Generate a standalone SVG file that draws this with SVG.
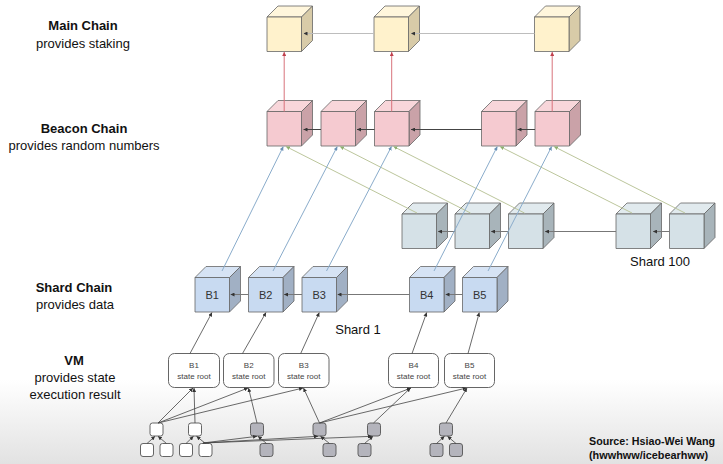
<svg xmlns="http://www.w3.org/2000/svg" width="723" height="464" viewBox="0 0 723 464">
<style>
.lbl{font-family:"Liberation Sans",Arial,sans-serif;font-size:13px;fill:#111;text-anchor:middle}
.b{font-weight:bold}
.cube path,.cube rect{stroke:#666;stroke-width:0.8;stroke-linejoin:round}
.main .front{fill:#fff2cc}.main .top{fill:#fff6dc}.main .side{fill:#d8cba8}
.beacon .front{fill:#f5cad0}.beacon .top{fill:#f8d6da}.beacon .side{fill:#caa2a8}
.s100 .front{fill:#d5e1e7}.s100 .top{fill:#e1eaee}.s100 .side{fill:#a8b4ba}
.s1 .front{fill:#c8daf1}.s1 .top{fill:#d6e3f4}.s1 .side{fill:#a1b0c4}
.cl{font-family:"Liberation Sans",Arial,sans-serif;font-size:11px;fill:#333;text-anchor:middle}
.vm rect{fill:#fff;stroke:#555;stroke-width:0.9}
.vt{font-family:"Liberation Sans",Arial,sans-serif;font-size:8px;fill:#444;text-anchor:middle}
.sw{fill:#fff;stroke:#555;stroke-width:0.9}
.sg{fill:#b4b4bc;stroke:#555;stroke-width:0.9}
.ln{fill:none;stroke-width:1}
.dk{stroke:#444;marker-end:url(#aDk)}
.lg{stroke:#bdbdbd;marker-end:url(#aDk)}
.md{stroke:#777;marker-end:url(#aDk)}
.rd{stroke:#d8737c;marker-end:url(#aRd)}
.bl{stroke:#8aaccb;marker-end:url(#aBl)}
.gr{stroke:#bcc69c;marker-start:url(#aGr)}
.tk{stroke:#444;stroke-width:0.8;marker-end:url(#aDk)}
.src{font-family:"Liberation Sans",Arial,sans-serif;font-size:11px;font-weight:bold;fill:#111}
</style>
<defs>
<linearGradient id="bg" x1="0" y1="0" x2="0" y2="1">
<stop offset="0" stop-color="#ffffff"/>
<stop offset="1" stop-color="#e2e2e2"/>
</linearGradient>
<marker id="aDk" viewBox="0 0 6 6" refX="6" refY="3" markerWidth="4" markerHeight="4" orient="auto" markerUnits="userSpaceOnUse"><path d="M0,0 L6,3 L0,6z" fill="#333"/></marker>
<marker id="aRd" viewBox="0 0 6 6" refX="6" refY="3" markerWidth="4" markerHeight="4" orient="auto" markerUnits="userSpaceOnUse"><path d="M0,0 L6,3 L0,6z" fill="#c0404c"/></marker>
<marker id="aBl" viewBox="0 0 6 6" refX="6" refY="3" markerWidth="4" markerHeight="4" orient="auto" markerUnits="userSpaceOnUse"><path d="M0,0 L6,3 L0,6z" fill="#6a90b4"/></marker>
<marker id="aGr" viewBox="0 0 6 6" refX="0" refY="3" markerWidth="4" markerHeight="4" orient="auto" markerUnits="userSpaceOnUse"><path d="M6,0 L0,3 L6,6z" fill="#8fb070"/></marker>
</defs>
<rect x="0" y="0" width="723" height="464" fill="#fff"/>
<rect x="0" y="380" width="723" height="84" fill="url(#bg)"/>

<g id="labels">
<text class="lbl b" x="83" y="30">Main Chain</text>
<text class="lbl" x="83" y="48">provides staking</text>
<text class="lbl b" x="84" y="133">Beacon Chain</text>
<text class="lbl" x="84" y="150">provides random numbers</text>
<text class="lbl b" x="74" y="292">Shard Chain</text>
<text class="lbl" x="75" y="309">provides data</text>
<text class="lbl b" x="74" y="365">VM</text>
<text class="lbl" x="75" y="382">provides state</text>
<text class="lbl" x="75" y="399">execution result</text>
<text class="lbl" x="660" y="266">Shard 100</text>
<text class="lbl" x="358" y="334">Shard 1</text>
<text class="src" x="589" y="445" textLength="126" lengthAdjust="spacingAndGlyphs">Source: Hsiao-Wei Wang</text>
<text class="src" x="589" y="459" textLength="119" lengthAdjust="spacingAndGlyphs">(hwwhww/icebearhww)</text>
</g>

<g id="main-1" class="cube main" transform="translate(267,17)"><path class="top" d="M0,0 L11,-11 L45.5,-11 L34.5,0Z"/><path class="side" d="M34.5,0 L45.5,-11 L45.5,23.5 L34.5,34.5Z"/><rect class="front" width="34.5" height="34.5"/></g>
<g id="main-2" class="cube main" transform="translate(374,17)"><path class="top" d="M0,0 L11,-11 L45.5,-11 L34.5,0Z"/><path class="side" d="M34.5,0 L45.5,-11 L45.5,23.5 L34.5,34.5Z"/><rect class="front" width="34.5" height="34.5"/></g>
<g id="main-3" class="cube main" transform="translate(534.5,17)"><path class="top" d="M0,0 L11,-11 L45.5,-11 L34.5,0Z"/><path class="side" d="M34.5,0 L45.5,-11 L45.5,23.5 L34.5,34.5Z"/><rect class="front" width="34.5" height="34.5"/></g>

<g id="beacon-1" class="cube beacon" transform="translate(267,111.5)"><path class="top" d="M0,0 L11,-11 L45.5,-11 L34.5,0Z"/><path class="side" d="M34.5,0 L45.5,-11 L45.5,23.5 L34.5,34.5Z"/><rect class="front" width="34.5" height="34.5"/></g>
<g id="beacon-2" class="cube beacon" transform="translate(321,111.5)"><path class="top" d="M0,0 L11,-11 L45.5,-11 L34.5,0Z"/><path class="side" d="M34.5,0 L45.5,-11 L45.5,23.5 L34.5,34.5Z"/><rect class="front" width="34.5" height="34.5"/></g>
<g id="beacon-3" class="cube beacon" transform="translate(374.5,111.5)"><path class="top" d="M0,0 L11,-11 L45.5,-11 L34.5,0Z"/><path class="side" d="M34.5,0 L45.5,-11 L45.5,23.5 L34.5,34.5Z"/><rect class="front" width="34.5" height="34.5"/></g>
<g id="beacon-4" class="cube beacon" transform="translate(481.5,111.5)"><path class="top" d="M0,0 L11,-11 L45.5,-11 L34.5,0Z"/><path class="side" d="M34.5,0 L45.5,-11 L45.5,23.5 L34.5,34.5Z"/><rect class="front" width="34.5" height="34.5"/></g>
<g id="beacon-5" class="cube beacon" transform="translate(535,111.5)"><path class="top" d="M0,0 L11,-11 L45.5,-11 L34.5,0Z"/><path class="side" d="M34.5,0 L45.5,-11 L45.5,23.5 L34.5,34.5Z"/><rect class="front" width="34.5" height="34.5"/></g>

<g id="s100-1" class="cube s100" transform="translate(402,214)"><path class="top" d="M0,0 L11,-11 L45.5,-11 L34.5,0Z"/><path class="side" d="M34.5,0 L45.5,-11 L45.5,23.5 L34.5,34.5Z"/><rect class="front" width="34.5" height="34.5"/></g>
<g id="s100-2" class="cube s100" transform="translate(455,214)"><path class="top" d="M0,0 L11,-11 L45.5,-11 L34.5,0Z"/><path class="side" d="M34.5,0 L45.5,-11 L45.5,23.5 L34.5,34.5Z"/><rect class="front" width="34.5" height="34.5"/></g>
<g id="s100-3" class="cube s100" transform="translate(508.5,214)"><path class="top" d="M0,0 L11,-11 L45.5,-11 L34.5,0Z"/><path class="side" d="M34.5,0 L45.5,-11 L45.5,23.5 L34.5,34.5Z"/><rect class="front" width="34.5" height="34.5"/></g>
<g id="s100-4" class="cube s100" transform="translate(616,214)"><path class="top" d="M0,0 L11,-11 L45.5,-11 L34.5,0Z"/><path class="side" d="M34.5,0 L45.5,-11 L45.5,23.5 L34.5,34.5Z"/><rect class="front" width="34.5" height="34.5"/></g>
<g id="s100-5" class="cube s100" transform="translate(669.5,214)"><path class="top" d="M0,0 L11,-11 L45.5,-11 L34.5,0Z"/><path class="side" d="M34.5,0 L45.5,-11 L45.5,23.5 L34.5,34.5Z"/><rect class="front" width="34.5" height="34.5"/></g>

<g id="s1-B1" class="cube s1" transform="translate(195,277.5)"><path class="top" d="M0,0 L11,-11 L45.5,-11 L34.5,0Z"/><path class="side" d="M34.5,0 L45.5,-11 L45.5,23.5 L34.5,34.5Z"/><rect class="front" width="34.5" height="34.5"/><text class="cl" x="17.25" y="21.5">B1</text></g>
<g id="s1-B2" class="cube s1" transform="translate(248.5,277.5)"><path class="top" d="M0,0 L11,-11 L45.5,-11 L34.5,0Z"/><path class="side" d="M34.5,0 L45.5,-11 L45.5,23.5 L34.5,34.5Z"/><rect class="front" width="34.5" height="34.5"/><text class="cl" x="17.25" y="21.5">B2</text></g>
<g id="s1-B3" class="cube s1" transform="translate(302,277.5)"><path class="top" d="M0,0 L11,-11 L45.5,-11 L34.5,0Z"/><path class="side" d="M34.5,0 L45.5,-11 L45.5,23.5 L34.5,34.5Z"/><rect class="front" width="34.5" height="34.5"/><text class="cl" x="17.25" y="21.5">B3</text></g>
<g id="s1-B4" class="cube s1" transform="translate(409.5,277.5)"><path class="top" d="M0,0 L11,-11 L45.5,-11 L34.5,0Z"/><path class="side" d="M34.5,0 L45.5,-11 L45.5,23.5 L34.5,34.5Z"/><rect class="front" width="34.5" height="34.5"/><text class="cl" x="17.25" y="21.5">B4</text></g>
<g id="s1-B5" class="cube s1" transform="translate(462.5,277.5)"><path class="top" d="M0,0 L11,-11 L45.5,-11 L34.5,0Z"/><path class="side" d="M34.5,0 L45.5,-11 L45.5,23.5 L34.5,34.5Z"/><rect class="front" width="34.5" height="34.5"/><text class="cl" x="17.25" y="21.5">B5</text></g>

<g id="vm-B1" class="vm"><rect x="168.5" y="353.5" width="51" height="34" rx="6"/><text class="vt" x="194" y="368">B1</text><text class="vt" x="194" y="379">state root</text></g>
<g id="vm-B2" class="vm"><rect x="223.5" y="353.5" width="50.5" height="34" rx="6"/><text class="vt" x="248.75" y="368">B2</text><text class="vt" x="248.75" y="379">state root</text></g>
<g id="vm-B3" class="vm"><rect x="278.5" y="353.5" width="50.5" height="34" rx="6"/><text class="vt" x="303.75" y="368">B3</text><text class="vt" x="303.75" y="379">state root</text></g>
<g id="vm-B4" class="vm"><rect x="388.5" y="353.5" width="50" height="34" rx="6"/><text class="vt" x="413.5" y="368">B4</text><text class="vt" x="413.5" y="379">state root</text></g>
<g id="vm-B5" class="vm"><rect x="444.5" y="353.5" width="50" height="34" rx="6"/><text class="vt" x="469.5" y="368">B5</text><text class="vt" x="469.5" y="379">state root</text></g>

<g id="trie">
<rect id="t1" class="sw" x="150" y="423" width="13" height="13" rx="2.5"/>
<rect id="t2" class="sw" x="188.5" y="423" width="13" height="13" rx="2.5"/>
<rect id="t3" class="sg" x="250.5" y="423" width="13" height="13" rx="2.5"/>
<rect id="t4" class="sg" x="313" y="423" width="13" height="13" rx="2.5"/>
<rect id="t5" class="sg" x="367.5" y="423" width="13" height="13" rx="2.5"/>
<rect id="t6" class="sg" x="439.5" y="423" width="13" height="13" rx="2.5"/>
<rect id="w1" class="sw" x="140.5" y="443.5" width="13" height="13" rx="2.5"/>
<rect id="w2" class="sw" x="160" y="443.5" width="13" height="13" rx="2.5"/>
<rect id="w3" class="sw" x="179.5" y="443.5" width="13" height="13" rx="2.5"/>
<rect id="w4" class="sw" x="199" y="443.5" width="13" height="13" rx="2.5"/>
<rect id="g3" class="sg" x="260" y="443.5" width="13" height="13" rx="2.5"/>
<rect id="g4" class="sg" x="323" y="443.5" width="13" height="13" rx="2.5"/>
<rect id="g5" class="sg" x="358" y="443.5" width="13" height="13" rx="2.5"/>
<rect id="g6a" class="sg" x="430" y="443.5" width="13" height="13" rx="2.5"/>
<rect id="g6b" class="sg" x="449.5" y="443.5" width="13" height="13" rx="2.5"/>
</g>

<g id="connectors">
<line class="ln lg" x1="534.5" y1="33.5" x2="411" y2="33.5"/>
<line class="ln lg" x1="374" y1="33.5" x2="303.5" y2="33.5"/>
<line class="ln dk" x1="535" y1="129.5" x2="517.5" y2="129.5"/>
<line class="ln dk" x1="481.5" y1="129.5" x2="411" y2="129.5"/>
<line class="ln dk" x1="374.5" y1="129.5" x2="357" y2="129.5"/>
<line class="ln dk" x1="321" y1="129.5" x2="303.5" y2="129.5"/>
<line class="ln md" x1="669.5" y1="231.5" x2="653" y2="231.5"/>
<line class="ln md" x1="616" y1="231.5" x2="545" y2="231.5"/>
<line class="ln md" x1="508.5" y1="231.5" x2="491" y2="231.5"/>
<line class="ln md" x1="455" y1="231.5" x2="438" y2="231.5"/>
<line class="ln md" x1="462.5" y1="294.5" x2="445.5" y2="294.5"/>
<line class="ln md" x1="409.5" y1="294.5" x2="337.5" y2="294.5"/>
<line class="ln md" x1="302" y1="294.5" x2="284" y2="294.5"/>
<line class="ln md" x1="248.5" y1="294.5" x2="230.5" y2="294.5"/>
<line class="ln rd" x1="284.2" y1="111.5" x2="284.2" y2="52"/>
<line class="ln rd" x1="391.7" y1="111.5" x2="391.7" y2="52"/>
<line class="ln rd" x1="552.2" y1="111.5" x2="552.2" y2="52"/>
<line class="ln gr" x1="286" y1="146.5" x2="417" y2="213"/>
<line class="ln gr" x1="340" y1="146.5" x2="470.5" y2="213"/>
<line class="ln gr" x1="393.5" y1="146.5" x2="524.5" y2="213"/>
<line class="ln gr" x1="500" y1="146.5" x2="632" y2="213"/>
<line class="ln gr" x1="554" y1="146.5" x2="685" y2="213"/>
<line class="ln bl" x1="222" y1="271" x2="283.3" y2="146.5"/>
<line class="ln bl" x1="273" y1="271" x2="337.3" y2="146.5"/>
<line class="ln bl" x1="326.5" y1="271" x2="391.5" y2="146.5"/>
<line class="ln bl" x1="434" y1="271" x2="497.3" y2="146.5"/>
<line class="ln bl" x1="488" y1="271" x2="551.7" y2="146.5"/>
<line class="ln tk" x1="190" y1="353.5" x2="212" y2="312.5"/>
<line class="ln tk" x1="242.5" y1="353.5" x2="266" y2="312.5"/>
<line class="ln tk" x1="300.7" y1="353.5" x2="319.3" y2="312.5"/>
<line class="ln tk" x1="412" y1="353.5" x2="426.7" y2="312.5"/>
<line class="ln tk" x1="468" y1="353.5" x2="479.3" y2="312.5"/>
<line class="ln tk" x1="158" y1="423" x2="193" y2="388"/>
<line class="ln tk" x1="158" y1="423" x2="248" y2="388"/>
<line class="ln tk" x1="158" y1="423" x2="303" y2="388"/>
<line class="ln tk" x1="195" y1="423" x2="194" y2="388"/>
<line class="ln tk" x1="257" y1="423" x2="248.5" y2="388"/>
<line class="ln tk" x1="319.5" y1="423" x2="303.5" y2="388"/>
<line class="ln tk" x1="319.5" y1="423" x2="411" y2="388"/>
<line class="ln tk" x1="319.5" y1="423" x2="466.5" y2="388"/>
<line class="ln tk" x1="373.5" y1="423" x2="410.5" y2="388"/>
<line class="ln tk" x1="446" y1="423" x2="467" y2="388"/>
<line class="ln tk" x1="147" y1="443.5" x2="155" y2="436.3"/>
<line class="ln tk" x1="166.5" y1="443.5" x2="158" y2="436.3"/>
<line class="ln tk" x1="186" y1="443.5" x2="193.5" y2="436.3"/>
<line class="ln tk" x1="205.5" y1="443.5" x2="196.5" y2="436.3"/>
<line class="ln tk" x1="203" y1="443" x2="257" y2="436.3"/>
<line class="ln tk" x1="203" y1="443" x2="318" y2="436.3"/>
<line class="ln tk" x1="203" y1="443" x2="372" y2="436.3"/>
<line class="ln tk" x1="266.5" y1="443.5" x2="258" y2="436.3"/>
<line class="ln tk" x1="329.5" y1="443.5" x2="320.5" y2="436.3"/>
<line class="ln tk" x1="364.5" y1="443.5" x2="373" y2="436.3"/>
<line class="ln tk" x1="436.5" y1="443.5" x2="444.5" y2="436.3"/>
<line class="ln tk" x1="456" y1="443.5" x2="447.5" y2="436.3"/>
</g>
</svg>
